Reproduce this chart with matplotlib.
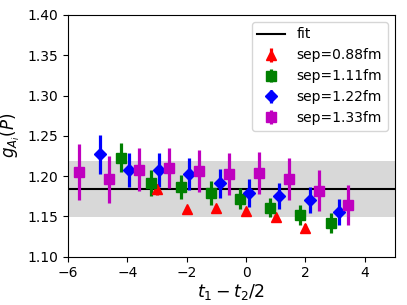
import matplotlib
matplotlib.use("Agg")
import matplotlib.pyplot as plt
import numpy as np

fit_value = 1.184
fit_band = (1.149, 1.219)

x_088 = [-3.0, -2.0, -1.0, 0.0, 1.0, 2.0]
y_088 = [1.1835, 1.159, 1.160, 1.157, 1.149, 1.136]
e_088 = [0.007, 0.004, 0.004, 0.004, 0.004, 0.004]

x_111 = [-4.21, -3.21, -2.19, -1.18, -0.21, 0.82, 1.83, 2.85]
y_111 = [1.223, 1.191, 1.186, 1.179, 1.172, 1.161, 1.152, 1.142]
e_111 = [0.018, 0.016, 0.015, 0.0145, 0.013, 0.012, 0.0125, 0.0128]

x_122 = [-4.92, -3.94, -2.93, -1.93, -0.89, 0.11, 1.12, 2.14, 3.14]
y_122 = [1.227, 1.2075, 1.2075, 1.2025, 1.191, 1.179, 1.175, 1.170, 1.155]
e_122 = [0.024, 0.021, 0.021, 0.020, 0.018, 0.017, 0.016, 0.016, 0.016]

x_133 = [-5.63, -4.61, -3.61, -2.59, -1.59, -0.58, 0.42, 1.43, 2.45, 3.44]
y_133 = [1.205, 1.196, 1.208, 1.210, 1.2066, 1.2025, 1.204, 1.196, 1.182, 1.164]
e_133 = [0.035, 0.029, 0.027, 0.025, 0.026, 0.026, 0.026, 0.026, 0.025, 0.025]

labels = ["sep=0.88fm", "sep=1.11fm", "sep=1.22fm", "sep=1.33fm"]
colors = ["red", "green", "blue", "m"]
markers = ["^", "s", "D", "s"]
msizes = [7, 6.5, 6.5, 7]

plt.rcParams['font.size'] = 10
fig = plt.figure(figsize=(4.07, 3.05), dpi=100)
ax = fig.add_axes([68/407, 1-256.7/305, (394.5-68)/407, (256.7-15)/305])

ax.axhspan(fit_band[0], fit_band[1], color='gray', alpha=0.3, lw=0)
ax.axhline(fit_value, color='black', lw=1.5, label='fit')

data = [(x_088, y_088, e_088), (x_111, y_111, e_111), (x_122, y_122, e_122), (x_133, y_133, e_133)]
for (x, y, e), lab, c, m, ms in zip(data, labels, colors, markers, msizes):
    ax.errorbar(x, y, yerr=e, fmt=m, color=c, ms=ms, elinewidth=2.3, capsize=0, label=lab)

ax.set_xlim(-6, 5)
ax.set_ylim(1.10, 1.40)
ax.set_xticks([-6, -4, -2, 0, 2, 4])
ax.set_yticks([1.10, 1.15, 1.20, 1.25, 1.30, 1.35, 1.40])
ax.set_xlabel(r"$t_1-t_2/2$", fontsize=12.5, labelpad=1)
ax.set_ylabel(r"$g_{A_i}(P)$", fontsize=12, labelpad=4)
ax.legend(loc='upper right')

fig.savefig("out.png", dpi=100)
